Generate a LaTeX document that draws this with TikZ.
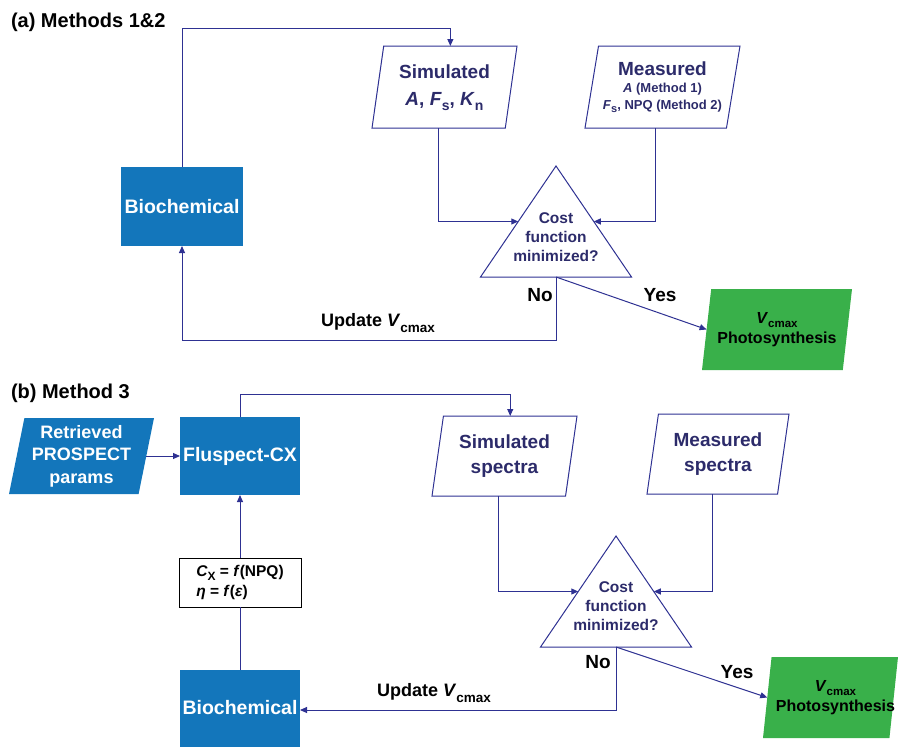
\documentclass[tikz,border=0pt]{standalone}
\usepackage{fontspec}
\setmainfont{Liberation Sans}
\usetikzlibrary{shapes.geometric,arrows.meta}
\definecolor{linkc}{RGB}{46,49,146}
\definecolor{navyt}{RGB}{44,43,106}
\definecolor{boxblue}{RGB}{19,118,187}
\definecolor{boxgreen}{RGB}{57,176,74}
\newcommand\lsub[3]{\raisebox{-#2pt}[0pt][0pt]{\fontsize{#1}{#1}\selectfont #3}}
\tikzset{every node/.style={inner sep=0pt,outer sep=0pt}}
\tikzset{proc/.style={fill=boxblue,text=white,align=center,font=\bfseries\fontsize{19.5}{22}\selectfont}}
\tikzset{data/.style={trapezium,trapezium left angle=75,trapezium right angle=105,trapezium stretches body,
  draw=linkc,line width=1pt,text=navyt,align=center,font=\bfseries\fontsize{19}{27}\selectfont}}
\tikzset{result/.style={data,draw=none,fill=boxgreen,text=black,font=\bfseries\fontsize{16}{20}\selectfont}}
\tikzset{test/.style={isosceles triangle,isosceles triangle stretches,shape border rotate=90,
  draw=linkc,line width=1pt,minimum width=151,minimum height=111,anchor=apex}}
\tikzset{testtext/.style={text=navyt,align=center,font=\bfseries\fontsize{15.5}{19}\selectfont}}
\tikzset{link/.style={draw=linkc,line width=1pt}}
\tikzset{arr/.style={link,-{Triangle[length=7pt,width=6pt]}}}
\tikzset{head/.style={anchor=base west,font=\bfseries\fontsize{20}{22}\selectfont}}
\tikzset{answer/.style={font=\bfseries\fontsize{19}{22}\selectfont}}
\tikzset{update/.style={font=\bfseries\fontsize{18}{20}\selectfont}}

\begin{document}
\begin{tikzpicture}[x=1pt,y=-1pt]
\useasboundingbox (0,0) rectangle (899,747);

% (a) Methods 1&2
\node[head] (heada) at (11,27) {(a) Methods 1\&2};
\node[proc,minimum width=122,minimum height=79] (bioa) at (182,206.5) {Biochemical};
\node[data,minimum width=145,minimum height=82] (sima) at (444.5,87)
  {Simulated\\\textit{A}, \textit{F}\lsub{14}{5}{s}, \textit{K}\lsub{14}{5}{n}};
\node[data,minimum width=155,minimum height=82,font=\bfseries\fontsize{13}{17}\selectfont] (meaa) at (662.5,87)
  {{\fontsize{19}{19}\selectfont Measured}\\\textit{A} (Method 1)\\\textit{F}\lsub{11}{3}{s}, NPQ (Method 2)};
\node[test] (costa) at (556,166) {};
\node[testtext] (costatxt) at (556,237) {Cost\\function\\minimized?};
\node[result,minimum width=150,minimum height=81] (outa) at (777,329.5)
  {\textit{V}\lsub{11.5}{4}{cmax}\\Photosynthesis};
\node[answer] (noa) at (540,295) {No};
\node[answer] (yesa) at (660,295) {Yes};
\node[update] (upda) at (378,322) {Update \textit{V}\lsub{13.5}{6}{cmax}};

\coordinate (topa) at (0,28);
\coordinate (bota) at (0,340);
\draw[arr] (bioa.north) -- (bioa.north |- topa) -| (sima.top side);
\draw[arr] (sima.bottom side) |- (costa.left side);
\draw[arr] (meaa.bottom side) |- (costa.right side);
\draw[arr] (costa.lower side) -- (costa.lower side |- bota) -| (bioa.south);
\draw[arr] (costa.lower side) -- (outa.left side);

% (b) Method 3
\node[head] (headb) at (11,398) {(b) Method 3};
\node[data,draw=none,fill=boxblue,text=white,trapezium left angle=76,trapezium right angle=104,
  minimum width=145,minimum height=76,font=\bfseries\fontsize{18}{22.5}\selectfont] (retr) at (81.5,456)
  {Retrieved\\PROSPECT\\params};
\node[proc,minimum width=120,minimum height=78] (flus) at (240,456) {Fluspect-CX};
\node[data,minimum width=145,minimum height=80,font=\bfseries\fontsize{19}{25}\selectfont] (simb) at (504.5,456)
  {Simulated\\spectra};
\node[data,minimum width=142,minimum height=80,font=\bfseries\fontsize{19}{25}\selectfont] (meab) at (718,454)
  {Measured\\spectra};
\node[test] (costb) at (616,536) {};
\node[testtext] (costbtxt) at (616,606) {Cost\\function\\minimized?};
\node[draw,line width=0.8pt,minimum width=122,minimum height=49,align=left,
  font=\bfseries\fontsize{15.5}{20}\selectfont] (cx) at (240,582.5)
  {\textit{C}\lsub{12}{4}{X} = \textit{f}(NPQ)\\\textit{η} = \textit{f}(\textit{ε})};
\node[proc,minimum width=120,minimum height=77] (biob) at (240,708) {Biochemical};
\node[result,trapezium left angle=76,trapezium right angle=104,minimum width=135,minimum height=81] (outb) at (830.5,697.5)
  {\makebox[80pt]{\hspace*{10pt}\textit{V}\lsub{11.5}{4}{cmax}}\\\makebox[80pt]{\hspace*{10pt}Photosynthesis}};
\node[answer] (nob) at (598,662) {No};
\node[answer] (yesb) at (737,672) {Yes};
\node[update] (updb) at (434,692) {Update \textit{V}\lsub{13.5}{6}{cmax}};

\coordinate (topb) at (0,394);
\coordinate (botb) at (0,710);
\draw[arr] (retr.right side) -- (flus.west);
\draw[arr] (flus.north) -- (flus.north |- topb) -| (simb.top side);
\draw[arr] (simb.bottom side) |- (costb.left side);
\draw[arr] (meab.bottom side) |- (costb.right side);
\draw[arr] (costb.lower side) -- (costb.lower side |- botb) -- (biob.east |- botb);
\draw[arr] (costb.lower side) -- (outb.left side);
\draw[link] (biob.north) -- (cx.south);
\draw[arr] (cx.north) -- (flus.south);
\end{tikzpicture}
\end{document}
